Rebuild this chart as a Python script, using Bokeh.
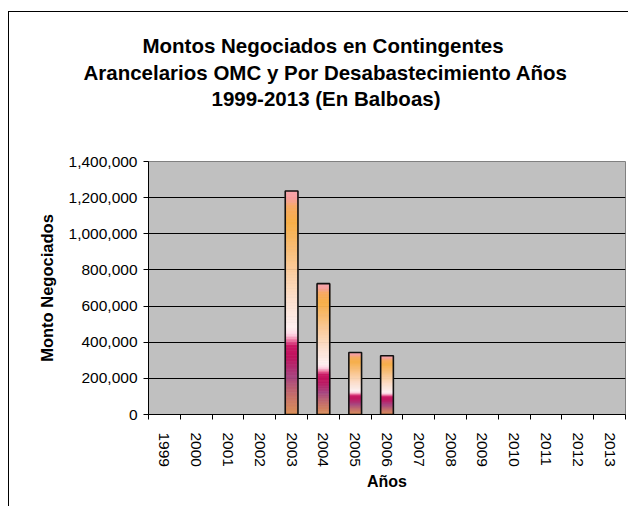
from bokeh.plotting import figure
from bokeh.models import (FixedTicker, NumeralTickFormatter, Range1d, Title,
                          ColumnDataSource)
from bokeh.embed import file_html
from bokeh.resources import INLINE

# ---- data ----
years = ["1999", "2000", "2001", "2002", "2003", "2004", "2005", "2006",
         "2007", "2008", "2009", "2010", "2011", "2012", "2013"]
montos = [0, 0, 0, 0, 1237000, 724000, 343000, 325000, 0, 0, 0, 0, 0, 0, 0]
y_ticks = [0, 200000, 400000, 600000, 800000, 1000000, 1200000, 1400000]
title_lines = ["Montos Negociados  en Contingentes",
               "Arancelarios OMC y Por Desabastecimiento Años",
               "1999-2013 (En Balboas)"]
x_label = "Años"
y_label = "Monto Negociados"

# ---- style ----
FONT = "Liberation Sans"
GRAD = [(0.00, "#dc9258"), (0.08, "#c87268"), (0.17, "#a84480"),
        (0.26, "#c0125e"), (0.31, "#cc1866"), (0.335, "#f080a8"),
        (0.36, "#ffd8e6"), (0.39, "#fff0f0"), (0.50, "#fde2d2"),
        (0.62, "#fcd0a6"), (0.75, "#f9bc72"), (0.86, "#f8b048"),
        (0.93, "#f8aa62"), (0.97, "#f8a0a0"), (1.00, "#f8a4aa")]
N_SLICES = 80
BAR_W = 0.4


def hex2rgb(h):
    return tuple(int(h[i:i + 2], 16) for i in (1, 3, 5))


def grad_color(f):
    for (f0, c0), (f1, c1) in zip(GRAD[:-1], GRAD[1:]):
        if f0 <= f <= f1:
            t = 0 if f1 == f0 else (f - f0) / (f1 - f0)
            a, b = hex2rgb(c0), hex2rgb(c1)
            return "#%02x%02x%02x" % tuple(round(a[i] + (b[i] - a[i]) * t) for i in range(3))
    return GRAD[-1][1]


W, H = 620, 495
ML, MR, MT, MB = 139, 4, 149, 93
p = figure(width=W, height=H, output_backend="svg", toolbar_location=None,
           x_range=Range1d(-0.5, len(years) - 0.5), y_range=Range1d(0, y_ticks[-1]),
           min_border_left=ML, min_border_right=MR, min_border_top=MT,
           min_border_bottom=MB)
p.styles = {"margin-left": "8px", "margin-top": "11px",
            "border-left": "1px solid black", "border-top": "1px solid black"}
p.background_fill_color = "#c0c0c0"
p.border_fill_color = "white"
p.outline_line_color = "#808080"
p.outline_line_width = 1

# gradient-filled bars built from stacked slices of each value
xs, bots, tops, cols = [], [], [], []
for i, v in enumerate(montos):
    if v <= 0:
        continue
    for k in range(N_SLICES):
        f0, f1 = k / N_SLICES, (k + 1) / N_SLICES
        xs.append(i)
        bots.append(v * f0)
        tops.append(v * f1)
        cols.append(grad_color((f0 + f1) / 2))
src = ColumnDataSource(dict(x=xs, bottom=bots, top=tops, color=cols))
p.vbar(x="x", width=BAR_W, bottom="bottom", top="top", source=src,
       fill_color="color", line_color="color", line_width=0.6)

ox = [i for i, v in enumerate(montos) if v > 0]
ot = [v for v in montos if v > 0]
p.vbar(x=ox, width=BAR_W, bottom=0, top=ot, fill_alpha=0,
       line_color="#111111", line_width=1.6)

# grid
p.xgrid.visible = False
p.ygrid.grid_line_color = "#000000"
p.ygrid.grid_line_width = 1

# y axis
p.yaxis.ticker = FixedTicker(ticks=y_ticks)
p.yaxis.formatter = NumeralTickFormatter(format="0,0")
p.yaxis.major_tick_out = 5
p.yaxis.major_tick_in = 0
p.yaxis.minor_tick_line_color = None
p.yaxis.axis_line_color = "black"
p.yaxis.major_tick_line_color = "black"
p.yaxis.major_label_standoff = 6
p.yaxis.major_label_text_font = FONT
p.yaxis.major_label_text_font_size = "15.5px"
p.yaxis.major_label_text_color = "black"
p.yaxis.axis_label = y_label
p.yaxis.axis_label_text_font = FONT
p.yaxis.axis_label_text_font_size = "16.5px"
p.yaxis.axis_label_text_font_style = "bold"
p.yaxis.axis_label_text_color = "black"
p.yaxis.axis_label_standoff = 10

# x axis
p.xaxis.ticker = FixedTicker(ticks=list(range(len(years))),
                             minor_ticks=[i - 0.5 for i in range(len(years) + 1)])
p.xaxis.major_label_overrides = {i: y for i, y in enumerate(years)}
p.xaxis.major_tick_out = 0
p.xaxis.major_tick_in = 0
p.xaxis.major_tick_line_color = None
p.xaxis.minor_tick_out = 5
p.xaxis.minor_tick_in = 0
p.xaxis.minor_tick_line_color = "black"
p.xaxis.axis_line_color = "black"
p.xaxis.major_label_orientation = "vertical"
p.xaxis.major_label_standoff = 13
p.xaxis.major_label_text_font = FONT
p.xaxis.major_label_text_font_size = "15.5px"
p.xaxis.major_label_text_color = "black"
p.xaxis.axis_label = x_label
p.xaxis.axis_label_text_font = FONT
p.xaxis.axis_label_text_font_size = "16px"
p.xaxis.axis_label_text_font_style = "bold"
p.xaxis.axis_label_text_color = "black"
p.xaxis.axis_label_standoff = 3


def style_title(t):
    t.text_font = FONT
    t.text_font_size = "20.5px"
    t.text_font_style = "bold"
    t.text_color = "black"
    t.align = "left"
    t.vertical_align = "bottom"


# title: p.title is the outermost line; added panels stack outward from the frame
offsets = [-6, -65, 63]
standoffs = [3, 0, 3]
p.title.text = title_lines[0]
p.title.offset = offsets[0]
p.title.standoff = standoffs[0]
style_title(p.title)

# blank spacer panel between the frame and the title block
spacer = Title(text=" ", standoff=47, text_font_size="1px", text_color="white")
p.add_layout(spacer, "above")
for j in (2, 1):
    t = Title(text=title_lines[j], offset=offsets[j], standoff=standoffs[j])
    style_title(t)
    p.add_layout(t, "above")

open("out.html", "w").write(file_html(p, INLINE))
